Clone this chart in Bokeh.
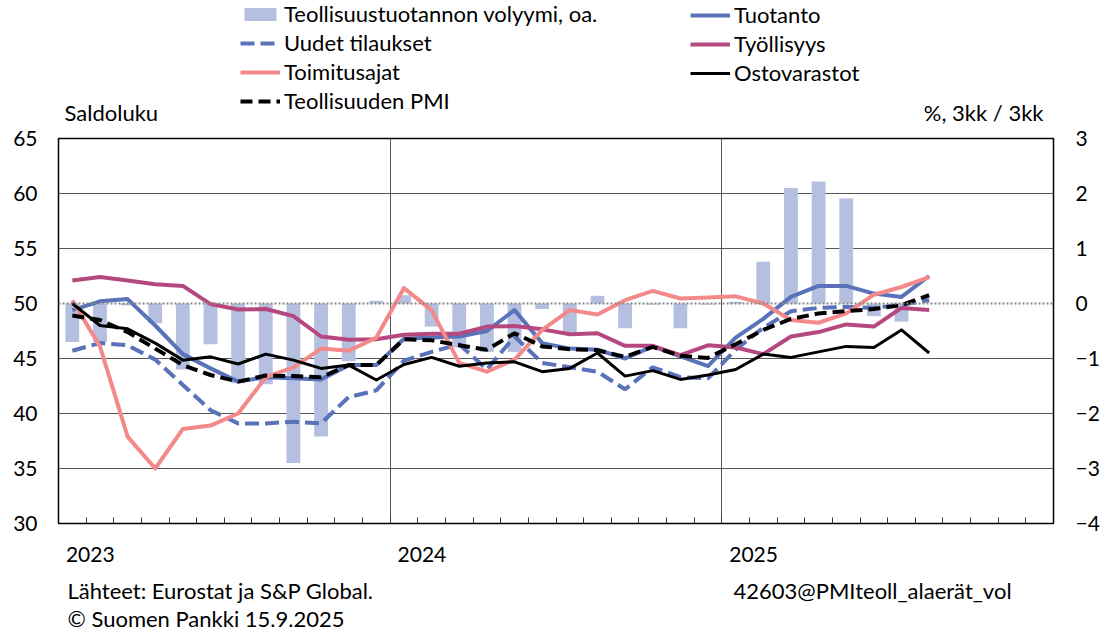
from bokeh.plotting import figure
from bokeh.models import Range1d, LinearAxis, FixedTicker, Legend, LegendItem, Span, Label
from bokeh.layouts import column
from bokeh.embed import file_html
from bokeh.resources import INLINE

FONT = "Lato"
FS = "22px"
TS = "21px"
W = 1102
BL = 58
BR = W - 1053
NAN = float("nan")

months = [f"{y}-{m:02d}" for y in (2023, 2024, 2025) for m in range(1, 13)][:32]
year_labels = ["2023", "2024", "2025"]

volyymi = [-0.70, -0.70, -0.03, -0.36, -1.20, -0.74, -1.45, -1.47, -2.90, -2.42, -1.05, 0.05,
           0.15, -0.42, -0.80, -0.88, -0.88, -0.10, -0.52, 0.14, -0.45, -0.02, -0.45, -0.02,
           0.03, 0.76, 2.10, 2.22, 1.91, -0.23, -0.33]
tuotanto = [49.4, 50.2, 50.4, 48.0, 45.4, 44.1, 42.9, 43.3, 43.2, 43.1, 44.4, 44.4,
            46.8, 46.9, 47.0, 47.5, 49.4, 46.4, 45.9, 45.8, 45.0, 46.1, 45.2, 44.3,
            46.9, 48.6, 50.6, 51.6, 51.6, 50.9, 50.6, 52.5]
uudet = [45.7, 46.4, 46.2, 44.9, 42.6, 40.3, 39.1, 39.1, 39.25, 39.1, 41.5, 42.1,
         44.8, 45.6, 46.3, 44.0, 47.0, 44.6, 44.2, 43.8, 42.2, 44.2, 43.3, 43.2,
         45.8, 47.8, 49.3, 49.6, 49.7, 49.6, 49.9, 50.3]
toimitus = [50.3, 46.1, 37.9, 35.0, 38.6, 38.9, 40.0, 43.3, 44.2, 45.9, 45.7, 46.9,
            51.4, 49.4, 44.6, 43.8, 44.9, 47.6, 49.4, 49.0, 50.3, 51.15, 50.45, 50.55,
            50.65, 50.0, 48.5, 48.25, 49.1, 50.8, 51.5, 52.4]
tyollisyys = [52.1, 52.4, 52.1, 51.75, 51.6, 49.95, 49.45, 49.5, 48.85, 47.0, 46.7, 46.75,
              47.15, 47.25, 47.25, 47.9, 47.95, 47.65, 47.2, 47.3, 46.15, 46.15, 45.3, 46.2,
              46.0, 45.4, 47.0, 47.4, 48.1, 47.9, 49.6, 49.4]
ostovarastot = [50.0, 48.0, 47.7, 46.4, 44.85, 45.15, 44.5, 45.4, 44.85, 44.1, 44.4, 43.05,
                44.45, 45.1, 44.3, 44.6, 44.7, 43.8, 44.1, 45.5, 43.4, 43.9, 43.1, 43.5,
                44.0, 45.4, 45.1, 45.6, 46.1, 46.0, 47.6, 45.5]
pmi = [48.9, 48.5, 47.4, 45.9, 44.4, 43.5, 42.9, 43.45, 43.4, 43.3, 44.4, 44.4,
       46.75, 46.65, 46.2, 45.8, 47.3, 46.1, 45.85, 45.75, 45.15, 46.05, 45.25, 45.05,
       46.3, 47.6, 48.6, 49.1, 49.3, 49.5, 49.85, 50.75]

names = ["Teollisuustuotannon volyymi, oa.", "Uudet tilaukset", "Toimitusajat", "Teollisuuden PMI",
         "Tuotanto", "Työllisyys", "Ostovarastot"]

C_BAR = "#b5c0e0"
C_BLUE = "#5a72b9"
C_MAG = "#b4487f"
C_PINK = "#f4898a"

xs = [i + 0.5 for i in range(len(months))]
xb = xs[:len(volyymi)]


def blank(height):
    f = figure(width=W, height=height, x_range=Range1d(0, 1), y_range=Range1d(0, 1),
               output_backend="svg", toolbar_location=None, x_axis_type=None, y_axis_type=None,
               min_border_left=BL, min_border_right=BR, min_border_top=0, min_border_bottom=0,
               outline_line_color=None)
    f.xgrid.visible = False
    f.ygrid.visible = False
    return f


def lbl(f, x, y, t, align="left", baseline="middle"):
    f.add_layout(Label(x=x, y=y, x_units="screen", y_units="screen", text=t,
                       text_font=FONT, text_font_size=FS, text_color="black",
                       text_align=align, text_baseline=baseline))


# ---------------- header (legend + unit texts) ----------------
HH = 125
head = blank(HH)
hb = head.vbar(x=[NAN], top=[NAN], bottom=0, width=1, fill_color=C_BAR, line_color=None)
hu = head.line(x=[NAN, NAN], y=[NAN, NAN], line_color=C_BLUE, line_width=4, line_dash="14 6")
ht = head.line(x=[NAN, NAN], y=[NAN, NAN], line_color=C_PINK, line_width=4)
hp = head.line(x=[NAN, NAN], y=[NAN, NAN], line_color="black", line_width=4, line_dash="12 6")
htu = head.line(x=[NAN, NAN], y=[NAN, NAN], line_color=C_BLUE, line_width=4)
hty = head.line(x=[NAN, NAN], y=[NAN, NAN], line_color=C_MAG, line_width=4)
ho = head.line(x=[NAN, NAN], y=[NAN, NAN], line_color="black", line_width=3)


def mk_legend(items, loc):
    lg = Legend(items=[LegendItem(label=l, renderers=[r]) for l, r in items], location=loc)
    lg.label_text_font = FONT
    lg.label_text_font_size = FS
    lg.label_text_color = "black"
    lg.glyph_width = 40
    lg.glyph_height = 16
    lg.label_standoff = 4
    lg.label_height = 22
    lg.spacing = 2
    lg.padding = 0
    lg.margin = 0
    lg.border_line_color = None
    lg.background_fill_alpha = 0
    return lg


head.add_layout(mk_legend(list(zip(names[:4], [hb, hu, ht, hp])), (240 - BL, 11)))
head.add_layout(mk_legend(list(zip(names[4:], [htu, hty, ho])), (690 - BL, 39)))
lbl(head, 64 - BL, 13, "Saldoluku")
lbl(head, 1043 - BL, 13, "%, 3kk / 3kk", align="right")

# ---------------- main chart ----------------
MT = 138 - HH
p = figure(width=W, height=MT + 385 + 48, x_range=Range1d(0, 36), y_range=Range1d(30, 65),
           output_backend="svg", toolbar_location=None,
           min_border_left=BL, min_border_right=BR, min_border_top=MT, min_border_bottom=48)
p.extra_y_ranges = {"right": Range1d(-4, 3)}
p.outline_line_color = "black"
p.outline_line_width = 1.5

p.ygrid.ticker = FixedTicker(ticks=[35, 40, 45, 55, 60])
p.ygrid.grid_line_color = "#555555"
p.ygrid.grid_line_width = 1
p.xgrid.ticker = FixedTicker(ticks=[12, 24])
p.xgrid.grid_line_color = "#555555"
p.xgrid.grid_line_width = 1

ya = p.yaxis[0]
ya.ticker = FixedTicker(ticks=list(range(30, 66, 5)))
ya.axis_line_color = None
ya.major_tick_in = 0
ya.major_tick_out = 0
ya.minor_tick_line_color = None
ya.major_label_standoff = 21
ya.major_label_text_font = FONT
ya.major_label_text_font_size = TS
ya.major_label_text_color = "black"

ra = LinearAxis(y_range_name="right", ticker=FixedTicker(ticks=list(range(-4, 4))))
ra.axis_line_color = None
ra.major_tick_in = 0
ra.major_tick_out = 0
ra.minor_tick_line_color = None
ra.major_label_standoff = 22
ra.major_label_text_align = "right"
ra.major_label_text_font = FONT
ra.major_label_text_font_size = TS
ra.major_label_text_color = "black"
p.add_layout(ra, "right")

xa = p.xaxis[0]
lab_pos = [12 * k + 1.15 for k in range(len(year_labels))]
xa.ticker = FixedTicker(ticks=lab_pos, minor_ticks=list(range(1, 36)))
xa.major_label_overrides = {pos: lab for pos, lab in zip(lab_pos, year_labels)}
xa.axis_line_color = None
xa.major_tick_in = 0
xa.major_tick_out = 0
xa.minor_tick_in = 6
xa.minor_tick_out = 0
xa.minor_tick_line_color = "#333333"
xa.major_label_standoff = 23
xa.major_label_text_font = FONT
xa.major_label_text_font_size = TS
xa.major_label_text_color = "black"

p.vbar(x=xb, top=volyymi, bottom=0, width=0.5, y_range_name="right",
       fill_color=C_BAR, line_color=None)
p.add_layout(Span(location=50, dimension="width", line_color="#888888",
                  line_width=2, line_dash="2 2"))
p.line(xs, tuotanto, line_color=C_BLUE, line_width=4, line_join="round")
p.line(xs, uudet, line_color=C_BLUE, line_width=4, line_dash="14 6")
p.line(xs, tyollisyys, line_color=C_MAG, line_width=4, line_join="round")
p.line(xs, toimitus, line_color=C_PINK, line_width=4, line_join="round")
p.line(xs, ostovarastot, line_color="black", line_width=3, line_join="round")
p.line(xs, pmi, line_color="black", line_width=4, line_dash="12 6")

# ---------------- footer ----------------
foot = blank(62)
lbl(foot, 67 - BL, 43, "Lähteet: Eurostat ja S&P Global.")
lbl(foot, 67 - BL, 15, "© Suomen Pankki 15.9.2025")
lbl(foot, 733 - BL, 43, "42603@PMIteoll_alaerät_vol")

layout = column(head, p, foot, spacing=0)
open("out.html", "w").write(file_html(layout, INLINE))
